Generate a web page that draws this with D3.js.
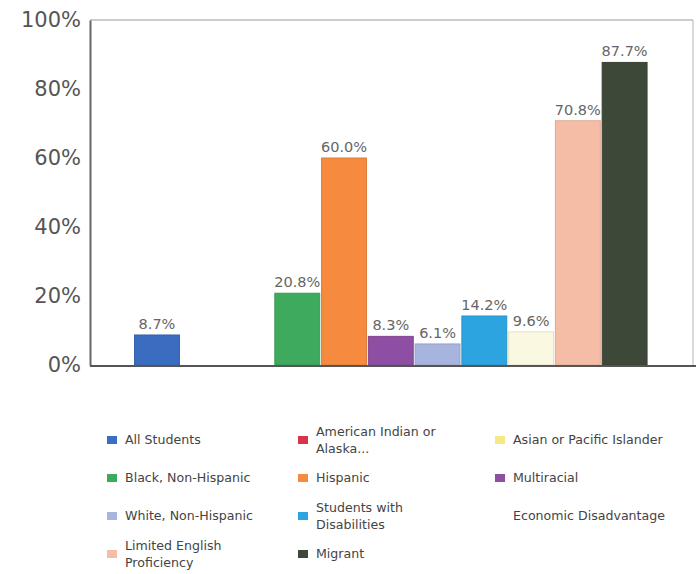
<!DOCTYPE html>
<html><head><meta charset="utf-8">
<script src="https://cdn.jsdelivr.net/npm/d3@7"></script>
<style>body{margin:0;background:#fff;} svg{display:block;}</style>
</head><body>
<svg id="c" width="696" height="574"></svg>
<script>
const categories = ["All Students","American Indian or Alaska...","Asian or Pacific Islander","Black, Non-Hispanic","Hispanic","Multiracial","White, Non-Hispanic","Students with Disabilities","Economic Disadvantage","Limited English Proficiency","Migrant"];
const values = [8.7, null, null, 20.8, 60.0, 8.3, 6.1, 14.2, 9.6, 70.8, 87.7];
const colors = ["#3a6cc0","#d8344c","#f3ea86","#3eaa5e","#f68a3e","#8d4ea3","#a7b5de","#2ba4e0","#fbf8e2","#f5bda6","#3e4839"];
const legendLines = [["All Students"],["American Indian or","Alaska..."],["Asian or Pacific Islander"],["Black, Non-Hispanic"],["Hispanic"],["Multiracial"],["White, Non-Hispanic"],["Students with","Disabilities"],["Economic Disadvantage"],["Limited English","Proficiency"],["Migrant"]];
const yTicks = [0,20,40,60,80,100];

const svg = d3.select("#c");
const x = d3.scaleBand().domain(categories).range([133.6, 648]).paddingInner(0.04).paddingOuter(0.02);
const y = d3.scaleLinear().domain([0,100]).range([365,20]);

// frame
svg.append("line").attr("x1",90).attr("x2",693).attr("y1",20).attr("y2",20).attr("stroke","#bbb").attr("stroke-width",1.5);
svg.append("line").attr("x1",693).attr("x2",693).attr("y1",20).attr("y2",365).attr("stroke","#ccc").attr("stroke-width",1.5);

// y axis
const yAxis = d3.axisLeft(y).tickValues(yTicks).tickFormat(d=>d+"%").tickSize(0).tickPadding(9);
const ga = svg.append("g").attr("transform","translate(90,0)").call(yAxis);
ga.select(".domain").attr("stroke","#666").attr("stroke-width",2);
ga.selectAll("text").attr("font-family","DejaVu Sans, Verdana, sans-serif").attr("font-size",21).attr("fill","#555");

// bars
const data = categories.map((c,i)=>({c, v:values[i], col:colors[i]})).filter(d=>d.v!=null);
svg.selectAll("rect.bar").data(data).enter().append("rect").attr("class","bar")
  .attr("x",d=>x(d.c)).attr("width",x.bandwidth())
  .attr("y",d=>y(d.v)).attr("height",d=>y(0)-y(d.v))
  .attr("fill",d=>d.col).attr("stroke",d=>d3.color(d.col).darker(0.3)).attr("stroke-width",1);
svg.selectAll("text.lbl").data(data).enter().append("text").attr("class","lbl")
  .attr("x",d=>x(d.c)+x.bandwidth()/2).attr("y",d=>y(d.v)-6)
  .attr("text-anchor","middle").attr("font-family","DejaVu Sans, Verdana, sans-serif")
  .attr("font-size",14.5).attr("fill","#666").text(d=>d.v.toFixed(1)+"%");

// x axis baseline
svg.append("line").attr("x1",90).attr("x2",696).attr("y1",366).attr("y2",366).attr("stroke","#555").attr("stroke-width",2);

// legend
const colX = [107, 298, 495];
const rowY = [440, 478, 516, 554];
const lg = svg.append("g");
categories.forEach((c,i)=>{
  const cx = colX[i%3], cy = rowY[Math.floor(i/3)];
  const g = lg.append("g");
  if (c !== "Economic Disadvantage") {
    g.append("rect").attr("x",cx).attr("y",cy-4).attr("width",10).attr("height",8).attr("fill",colors[i]);
  }
  const lines = legendLines[i];
  const t = g.append("text").attr("font-family","DejaVu Sans, Verdana, sans-serif").attr("font-size",12.6).attr("fill","#444");
  lines.forEach((l,k)=>{
    t.append("tspan").attr("x",cx+18).attr("y",cy+4+(k-(lines.length-1)/2)*17).text(l);
  });
});
</script>
</body></html>
